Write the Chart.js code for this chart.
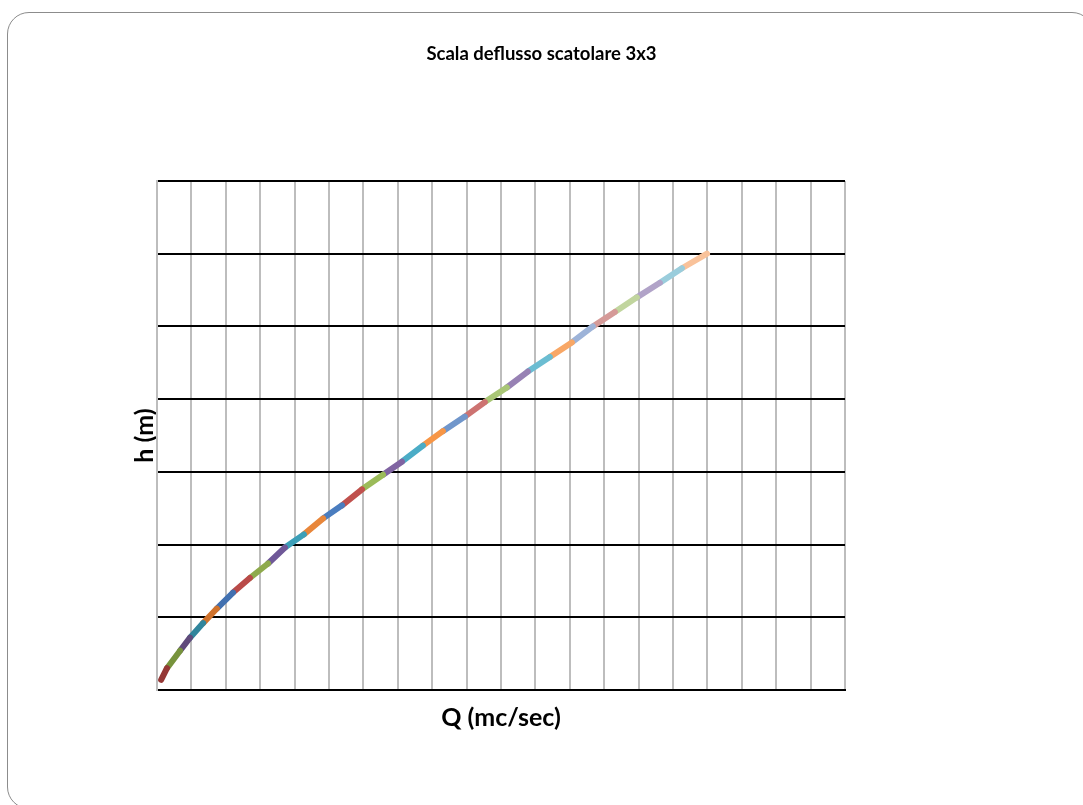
<!DOCTYPE html>
<html>
<head>
<meta charset="utf-8">
<script src="https://cdn.jsdelivr.net/npm/chart.js"></script>
<style>
  html, body { margin: 0; padding: 0; background: #fff; }
  .frame {
    position: absolute; left: 7px; top: 12px; width: 1085px; height: 795px;
    border: 1.5px solid #8c8c8c; border-radius: 22px;
  }
  .chart-wrapper { position: absolute; left: 0; top: 0; width: 1083px; height: 805px; }
</style>
</head>
<body>
<div class="frame"></div>
<div class="chart-wrapper"><canvas id="chart"></canvas></div>
<script>
// Rating curve points (h in m, Q in mc/sec)
const H_VALUES = [0.07, 0.15, 0.27, 0.36, 0.46, 0.56, 0.67, 0.77, 0.87, 0.98,
  1.07, 1.18, 1.27, 1.38, 1.48, 1.57, 1.68, 1.78, 1.88, 1.98,
  2.08, 2.19, 2.29, 2.39, 2.50, 2.60, 2.70, 2.80, 2.90, 3.00];
const Q_VALUES = [0.12, 0.29, 0.67, 0.96, 1.34, 1.74, 2.21, 2.70, 3.23, 3.72,
  4.27, 4.83, 5.38, 5.96, 6.57, 7.12, 7.73, 8.31, 8.95, 9.53,
  10.17, 10.78, 11.42, 12.06, 12.67, 13.31, 13.95, 14.62, 15.26, 15.99];

// one colour per segment, bottom to top
const SEGMENT_COLORS = [
  "#953735", "#77933c", "#604a7b", "#31859c", "#d0722b", "#4170b0",
  "#b94a48", "#8eaa4c", "#6f5898", "#3c9fb8", "#e8863a", "#4a7dbf",
  "#c0504d", "#9bbb59", "#8064a2", "#4bacc6", "#f79646", "#7096cb",
  "#cd7371", "#a9c676", "#9781b4", "#6bbdd2", "#f8a766", "#9db3d8",
  "#d59a98", "#c1d59e", "#b1a3c8", "#9acddc", "#f9c29a",
];

const TITLE = "Scala deflusso scatolare 3x3";
const X_TITLE = "Q (mc/sec)";
const Y_TITLE = "h (m)";

const FONT = "Lato, 'Open Sans', sans-serif";

const datasets = SEGMENT_COLORS.map((color, i) => ({
  label: `S${i + 1}`,
  data: [
    { x: Q_VALUES[i], y: H_VALUES[i] },
    { x: Q_VALUES[i + 1], y: H_VALUES[i + 1] },
  ],
  borderColor: color,
  backgroundColor: color,
  borderWidth: 6,
  borderCapStyle: "round",
  showLine: true,
  pointRadius: 0,
  pointHoverRadius: 0,
}));

new Chart(document.getElementById("chart"), {
  type: "scatter",
  data: { datasets },
  options: {
    responsive: true,
    maintainAspectRatio: false,
    animation: false,
    layout: { padding: 0 },
    plugins: {
      legend: { display: false },
      tooltip: { enabled: false },
      title: {
        display: true,
        text: TITLE,
        color: "#000",
        font: { family: FONT, size: 18.5, weight: "bold", lineHeight: 1.2 },
        padding: { top: 42.9, bottom: 115.9 },
      },
    },
    scales: {
      x: {
        type: "linear",
        min: 0,
        max: 20,
        ticks: { display: false, stepSize: 1 },
        grid: { color: "#bdbdbd", lineWidth: 2, drawTicks: false },
        border: { color: "#000", width: 2 },
        title: {
          display: true,
          text: X_TITLE,
          color: "#000",
          font: { family: FONT, size: 25, weight: "bold", lineHeight: 1.2 },
          padding: { top: 0, bottom: 72 },
        },
        afterFit: (scale) => { scale.height = 115; },
      },
      y: {
        type: "linear",
        min: 0,
        max: 3.5,
        ticks: { display: false, stepSize: 0.5 },
        grid: { color: "#000", lineWidth: 2, drawTicks: false },
        border: { color: "#bdbdbd", width: 2 },
        title: {
          display: true,
          text: Y_TITLE,
          color: "#000",
          font: { family: FONT, size: 25, weight: "bold", lineHeight: 1.2 },
          padding: { top: 130, bottom: 0 },
        },
        afterFit: (scale) => { scale.width = 157; },
      },
      // empty right-hand axis, only keeps the plot area where it is in the picture
      yRight: {
        type: "linear",
        position: "right",
        min: 0,
        max: 3.5,
        ticks: { display: false },
        grid: { display: false, drawTicks: false },
        border: { display: false },
        afterFit: (scale) => { scale.width = 238; },
      },
    },
  },
});
</script>
</body>
</html>
